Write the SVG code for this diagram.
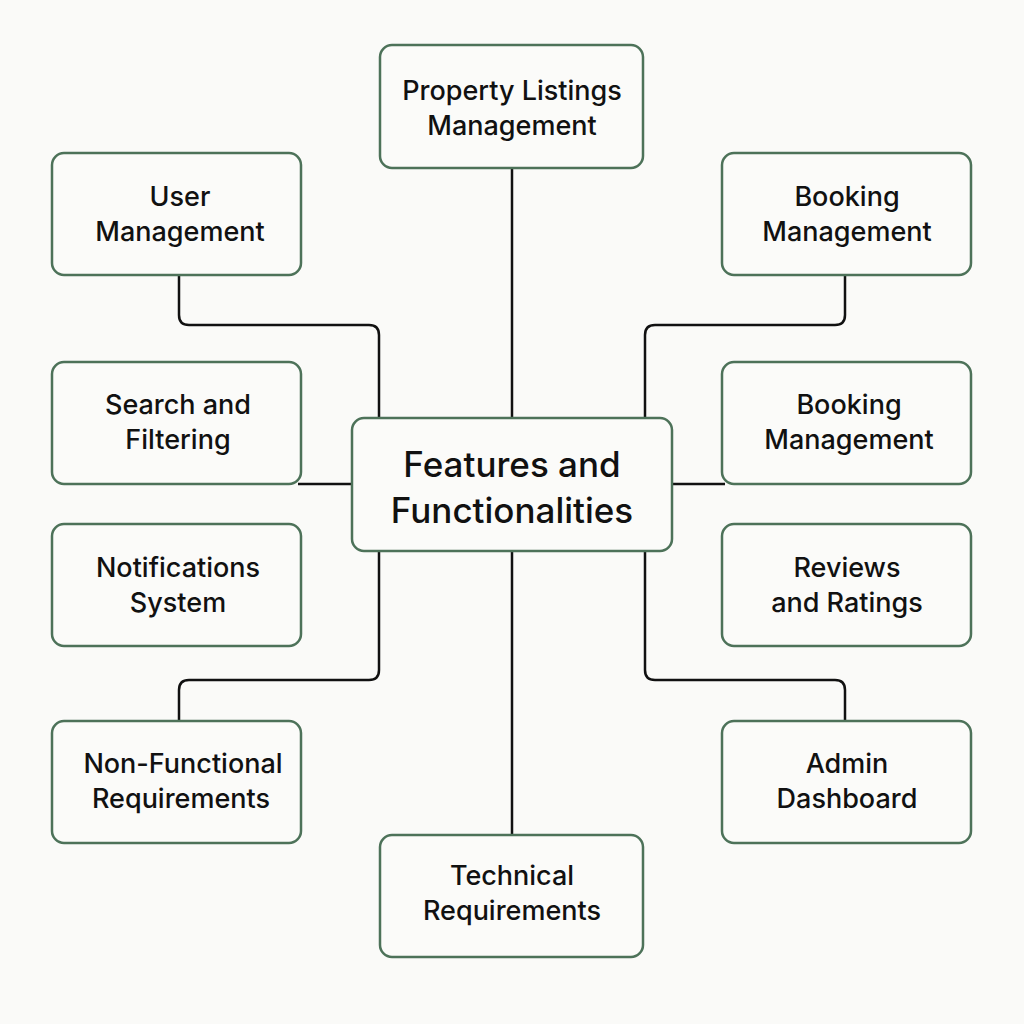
<svg xmlns="http://www.w3.org/2000/svg" width="1024" height="1024" viewBox="0 0 1024 1024">
<style>
.box{fill:#fbfbf9;stroke:#4d7259;stroke-width:2.5}
.t{font-family:Inter,"Liberation Sans",sans-serif;font-size:27px;font-weight:500;fill:#111;text-anchor:middle}
.tc{font-family:Inter,"Liberation Sans",sans-serif;font-size:35px;font-weight:500;fill:#111;text-anchor:middle}
.c{fill:none;stroke:#111;stroke-width:2.5;stroke-linejoin:round}
</style>
<rect width="1024" height="1024" fill="#fafaf8"/>
<g id="connectors">
<path class="c" d="M512 168 V418"/>
<path class="c" d="M512 551 V835"/>
<path class="c" d="M179 275 V315 Q179 325 189 325 H369 Q379 325 379 335 V418"/>
<path class="c" d="M845 275 V315 Q845 325 835 325 H655 Q645 325 645 335 V418"/>
<path class="c" d="M298 484 H352"/>
<path class="c" d="M672 484 H725"/>
<path class="c" d="M179 721 V690 Q179 680 189 680 H369 Q379 680 379 670 V551"/>
<path class="c" d="M845 721 V690 Q845 680 835 680 H655 Q645 680 645 670 V551"/>
</g>
<g id="center"><rect class="box" x="352" y="418" width="320" height="133" rx="12"/><text class="tc" x="512" y="477">Features and</text><text class="tc" x="512" y="523">Functionalities</text></g>
<g id="property"><rect class="box" x="380" y="45" width="263" height="123" rx="12"/><text class="t" x="512" y="100">Property Listings</text><text class="t" x="512" y="135">Management</text></g>
<g id="user"><rect class="box" x="52" y="153" width="249" height="122" rx="12"/><text class="t" x="180" y="206">User</text><text class="t" x="180" y="241">Management</text></g>
<g id="search"><rect class="box" x="52" y="362" width="249" height="122" rx="12"/><text class="t" x="178" y="414">Search and</text><text class="t" x="178" y="449">Filtering</text></g>
<g id="notifications"><rect class="box" x="52" y="524" width="249" height="122" rx="12"/><text class="t" x="178" y="577">Notifications</text><text class="t" x="178" y="612">System</text></g>
<g id="nonfunctional"><rect class="box" x="52" y="721" width="249" height="122" rx="12"/><text class="t" x="183" y="773">Non-Functional</text><text class="t" x="181" y="808">Requirements</text></g>
<g id="booking1"><rect class="box" x="722" y="153" width="249" height="122" rx="12"/><text class="t" x="847" y="206">Booking</text><text class="t" x="847" y="241">Management</text></g>
<g id="booking2"><rect class="box" x="722" y="362" width="249" height="122" rx="12"/><text class="t" x="849" y="414">Booking</text><text class="t" x="849" y="449">Management</text></g>
<g id="reviews"><rect class="box" x="722" y="524" width="249" height="122" rx="12"/><text class="t" x="847" y="577">Reviews</text><text class="t" x="847" y="612">and Ratings</text></g>
<g id="admin"><rect class="box" x="722" y="721" width="249" height="122" rx="12"/><text class="t" x="847" y="773">Admin</text><text class="t" x="847" y="808">Dashboard</text></g>
<g id="technical"><rect class="box" x="380" y="835" width="263" height="122" rx="12"/><text class="t" x="512" y="885">Technical</text><text class="t" x="512" y="920">Requirements</text></g>
</svg>
